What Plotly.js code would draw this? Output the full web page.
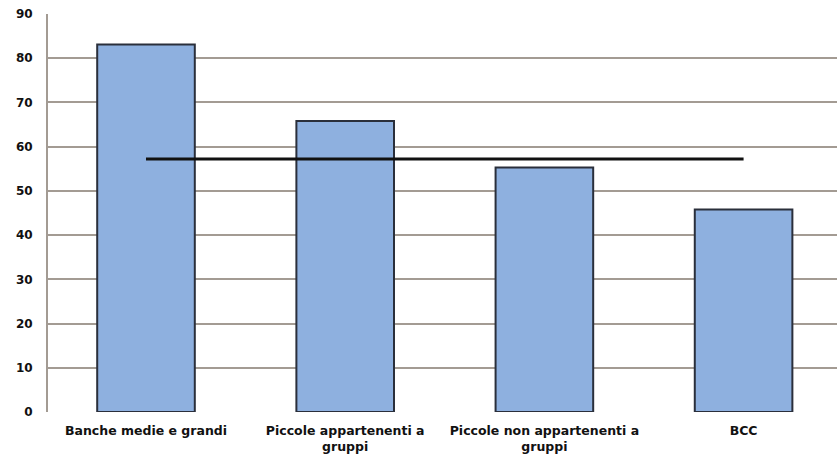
<!DOCTYPE html>
<html>
<head>
<meta charset="utf-8">
<script src="https://cdn.plot.ly/plotly-3.0.1.min.js"></script>
<style>
  html, body { margin: 0; padding: 0; background: #ffffff; overflow: hidden; }
  #chart { width: 837px; height: 459px; }
</style>
</head>
<body>
<div id="chart"></div>
<script>
// Categories shown on the x axis
const categories = [
  "Banche medie e grandi",
  "Piccole appartenenti a<br>gruppi",
  "Piccole non appartenenti a<br>gruppi",
  "BCC"
];
// Bar heights per category
const barValues = [83.1, 65.8, 55.3, 45.8];
// Overall average drawn as a horizontal line across the categories
const averageValues = [57.2, 57.2, 57.2, 57.2];
// Y axis ticks
const yTicks = [0, 10, 20, 30, 40, 50, 60, 70, 80, 90];

const gridColor = "#a39b93";
const xFont = { family: "DejaVu Sans, sans-serif", size: 12.5, color: "#111111", weight: "bold" };
const yFont = { family: "DejaVu Sans, sans-serif", size: 12, color: "#111111", weight: "bold" };

const traces = [
  {
    type: "bar",
    x: [0, 1, 2, 3],
    y: barValues,
    width: 0.49,
    marker: {
      color: "#8eb0df",
      line: { color: "#2a2f3b", width: 2 }
    },
    hoverinfo: "skip"
  },
  {
    type: "scatter",
    mode: "lines",
    x: [0, 1, 2, 3],
    y: averageValues,
    line: { color: "#111111", width: 3 },
    hoverinfo: "skip"
  }
];

const layout = {
  width: 837,
  height: 459,
  margin: { l: 48, r: 0, t: 14, b: 47 },
  paper_bgcolor: "#ffffff",
  plot_bgcolor: "#ffffff",
  showlegend: false,
  font: xFont,
  xaxis: {
    range: [-0.492, 3.469],
    tickvals: [0, 1, 2, 3],
    ticktext: categories,
    showgrid: false,
    zeroline: false,
    showline: false,
    ticks: "",
    ticklabelstandoff: 9,
    tickfont: xFont,
    fixedrange: true
  },
  yaxis: {
    range: [0, 90],
    tickvals: yTicks,
    ticktext: yTicks.map(String),
    showgrid: true,
    gridcolor: gridColor,
    gridwidth: 2,
    zeroline: false,
    showline: true,
    linecolor: gridColor,
    linewidth: 2,
    ticks: "",
    ticklabelstandoff: 11,
    tickfont: yFont,
    fixedrange: true
  }
};

Plotly.newPlot("chart", traces, layout, { displayModeBar: false, staticPlot: true });
</script>
</body>
</html>
